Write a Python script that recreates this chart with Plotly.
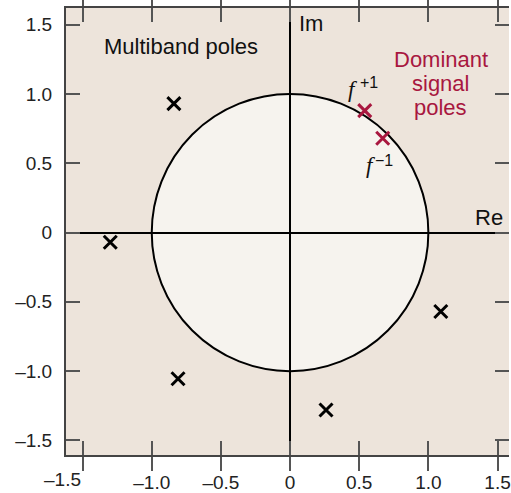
import plotly.graph_objects as go

# Data
multiband_re = [-0.84, -1.30, -0.81, 0.26, 1.09]
multiband_im = [0.93, -0.07, -1.055, -1.28, -0.57]
dominant_re = [0.54, 0.67]
dominant_im = [0.88, 0.68]
tick_vals = [-1.5, -1.0, -0.5, 0, 0.5, 1.0, 1.5]
tick_text = ["\u20131.5", "\u20131.0", "\u20130.5", "0", "0.5", "1.0", "1.5"]
x_tick_text = ["", "\u20131.0", "\u20130.5", "0", "0.5", "1.0", "1.5"]

BG = "#ede4db"
CIRCLE = "#f6f3ee"
RED = "#a8173f"
FONT = "Liberation Sans"
SERIF = "Liberation Serif"
TXT = "#111"

fig = go.Figure()

fig.add_shape(type="circle", x0=-1, y0=-1, x1=1, y1=1, xref="x", yref="y",
              fillcolor=CIRCLE, line=dict(color="black", width=2), layer="below")

fig.add_trace(go.Scatter(x=multiband_re, y=multiband_im, mode="markers",
                         marker=dict(symbol="x-thin", size=13, color="black",
                                     line=dict(color="black", width=3)),
                         hoverinfo="skip"))
fig.add_trace(go.Scatter(x=dominant_re, y=dominant_im, mode="markers",
                         marker=dict(symbol="x-thin", size=13, color=RED,
                                     line=dict(color=RED, width=3)),
                         hoverinfo="skip"))
# invisible trace to hold the mirrored right-hand tick axis
fig.add_trace(go.Scatter(x=[0], y=[0], yaxis="y2", mode="markers",
                         marker=dict(opacity=0), hoverinfo="skip"))

ann = [
    dict(x=-0.79, y=1.34, text="Multiband poles", font=dict(size=22, color=TXT)),
    dict(x=0.05, y=1.51, text="Im", xanchor="left", font=dict(size=22, color=TXT)),
    dict(x=1.555, y=0.11, text="Re", xanchor="right", font=dict(size=22, color=TXT)),
    dict(x=1.09, y=1.25, text="Dominant", font=dict(size=22, color=RED)),
    dict(x=1.09, y=1.077, text="signal", font=dict(size=22, color=RED)),
    dict(x=1.09, y=0.905, text="poles", font=dict(size=22, color=RED)),
    # f^{+1}
    dict(x=0.453, y=1.034, text="<i>f</i>", font=dict(size=23, color=TXT, family=SERIF)),
    dict(x=0.572, y=1.08, text="+1", font=dict(size=16, color=TXT)),
    # f^{-1}
    dict(x=0.586, y=0.481, text="<i>f</i>", font=dict(size=23, color=TXT, family=SERIF)),
    dict(x=0.680, y=0.517, text="\u22121", font=dict(size=16, color=TXT)),
]
for a in ann:
    a.setdefault("xanchor", "center")
    fig.add_annotation(xref="x", yref="y", showarrow=False, **a)

# first x tick label nudged left, as in the reference
fig.add_annotation(xref="x", yref="paper", x=tick_vals[0], y=0, yanchor="top",
                   yshift=-12, xshift=-20, text=tick_text[0], showarrow=False,
                   font=dict(size=19, color="#222", family=FONT))

axis_common = dict(
    tickvals=tick_vals, ticks="inside", ticklen=14,
    tickwidth=1.5, tickcolor="#555", showgrid=False, zeroline=True,
    zerolinecolor="black", zerolinewidth=1.5, showline=True, linecolor="#444",
    linewidth=2, tickfont=dict(size=19, color="#222", family=FONT),
    fixedrange=True, ticklabeloverflow="allow",
)
fig.update_layout(
    xaxis=dict(range=[-1.62, 1.583], ticktext=x_tick_text, mirror="allticks",
               ticklabelstandoff=9, **axis_common),
    yaxis=dict(range=[-1.605, 1.62], ticktext=tick_text, mirror=False,
               ticklabelstandoff=8, **axis_common),
    yaxis2=dict(range=[-1.605, 1.62], overlaying="y", side="right", tickvals=tick_vals,
                ticks="inside", ticklen=14, tickwidth=1.5, tickcolor="#555",
                showticklabels=False, showline=False, showgrid=False, zeroline=False,
                fixedrange=True),
    width=511, height=493, margin=dict(l=66, r=0, t=8, b=36),
    plot_bgcolor=BG, paper_bgcolor="white", showlegend=False,
    font=dict(family=FONT),
)
fig.write_html("out.html")
